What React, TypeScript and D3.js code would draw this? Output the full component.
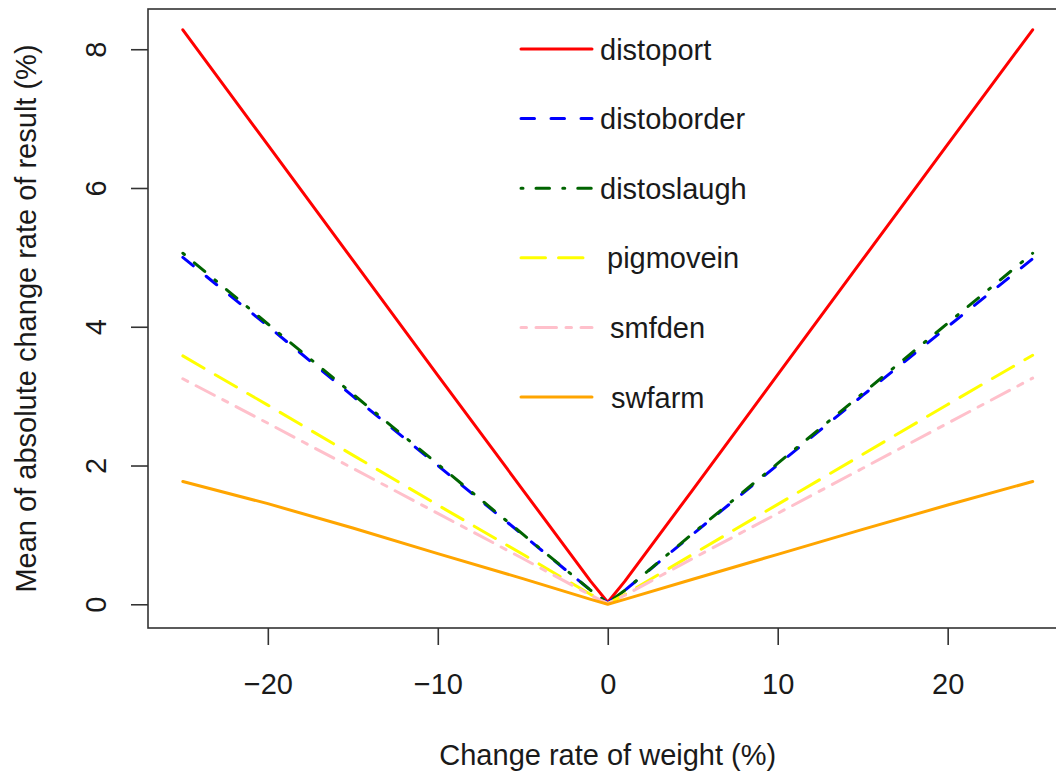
import * as d3 from "d3";
import { useEffect, useRef } from "react";

// Data
const changeRate = [-25, -20, -15, -10, -5, -1, 0, 1, 5, 10, 15, 20, 25];

const distoport = [8.28, 6.62, 4.96, 3.3, 1.65, 0.33, 0.03, 0.33, 1.65, 3.31, 4.97, 6.63, 8.28];
const distoborder = [5.0, 4.01, 3.0, 2.0, 1.0, 0.2, 0.02, 0.2, 1.01, 2.01, 3.01, 4.0, 4.98];
const distoslaugh = [5.06, 4.04, 3.03, 2.02, 1.01, 0.2, 0.02, 0.2, 1.02, 2.03, 3.04, 4.05, 5.06];
const pigmovein = [3.58, 2.87, 2.15, 1.43, 0.72, 0.14, 0.01, 0.14, 0.72, 1.44, 2.16, 2.88, 3.59];
const smfden = [3.25, 2.61, 1.96, 1.31, 0.66, 0.13, 0.01, 0.13, 0.66, 1.31, 1.96, 2.61, 3.26];
const swfarm = [1.77, 1.45, 1.1, 0.73, 0.37, 0.07, 0.0, 0.07, 0.36, 0.72, 1.08, 1.43, 1.77];

const seriesNames = ["distoport", "distoborder", "distoslaugh", "pigmovein", "smfden", "swfarm"];
const seriesValues = [distoport, distoborder, distoslaugh, pigmovein, smfden, swfarm];

const xTicks = [-20, -10, 0, 10, 20];
const yTicks = [0, 2, 4, 6, 8];

// Styles (R: lty 1, 2, 4, 5, 6, 1)
const colors = ["#ff0000", "#0000ff", "#006400", "#ffff00", "#ffc0cb", "#ffa500"];
const dashes = ["none", "13.5,16.5", "2,13,13.5,13.25", "24.5,13", "5.5,9.5,20.5,9.5", "none"];
const legendIndent = [0, 0, 0, 7, 10, 11];

const font = "'Liberation Sans', Arial, sans-serif";
const textColor = "#1a1a1a";

const drawChart = (node: SVGSVGElement) => {
  const svg = d3.select(node);
  svg.selectAll("*").remove();

  // plot region
  const left = 148, right = 1067.5, top = 9, bottom = 628;

  const xScale = d3.scaleLinear().domain([-27.05, 27.05]).range([left, right]);
  const yScale = d3.scaleLinear().domain([-0.342, 8.58]).range([bottom, top]);

  svg.append("rect")
    .attr("width", 1056)
    .attr("height", 776)
    .attr("fill", "#fff");

  // Axes
  const xAxis = d3.axisBottom(xScale).tickValues(xTicks).tickSize(17).tickPadding(30);
  const xAxisGroup = svg.append("g")
    .attr("transform", `translate(0, ${bottom})`)
    .call(xAxis);
  xAxisGroup.select(".domain").remove();
  xAxisGroup.selectAll(".tick line").attr("stroke", "#333").attr("stroke-width", 1.6);
  xAxisGroup.selectAll(".tick text")
    .attr("y", 66)
    .attr("dy", 0)
    .style("font-family", font)
    .style("font-size", "29px")
    .style("fill", textColor);

  const yAxis = d3.axisLeft(yScale).tickValues(yTicks).tickSize(17).tickFormat(d3.format("d"));
  const yAxisGroup = svg.append("g")
    .attr("transform", `translate(${left}, 0)`)
    .call(yAxis);
  yAxisGroup.select(".domain").remove();
  yAxisGroup.selectAll(".tick line").attr("stroke", "#333").attr("stroke-width", 1.6);
  yAxisGroup.selectAll(".tick text")
    .attr("x", 0)
    .attr("dy", 0)
    .attr("text-anchor", "middle")
    .attr("transform", "translate(-42, 0) rotate(-90)")
    .style("font-family", font)
    .style("font-size", "29px")
    .style("fill", textColor);

  // Box
  svg.append("rect")
    .attr("x", left)
    .attr("y", top)
    .attr("width", right - left)
    .attr("height", bottom - top)
    .attr("fill", "none")
    .attr("stroke", "#333")
    .attr("stroke-width", 1.6);

  // Lines
  const line = d3.line<number>()
    .x((_, i) => xScale(changeRate[i]))
    .y(d => yScale(d));

  seriesValues.forEach((vals, k) => {
    svg.append("path")
      .datum(vals)
      .attr("fill", "none")
      .attr("stroke", colors[k])
      .attr("stroke-width", 3)
      .attr("stroke-linecap", "round")
      .attr("stroke-linejoin", "round")
      .attr("stroke-dasharray", dashes[k])
      .attr("d", line);
  });

  // Legend
  const legendTop = 49, rowGap = 69.6;
  const legend = svg.append("g");
  seriesNames.forEach((name, k) => {
    const y = legendTop + k * rowGap;
    legend.append("line")
      .attr("x1", 521)
      .attr("x2", 592)
      .attr("y1", y)
      .attr("y2", y)
      .attr("stroke", colors[k])
      .attr("stroke-width", 3)
      .attr("stroke-linecap", "round")
      .attr("stroke-dasharray", dashes[k]);
    legend.append("text")
      .attr("x", 600 + legendIndent[k])
      .attr("y", y + 10.5)
      .text(name)
      .style("font-family", font)
      .style("font-size", "29px")
      .style("fill", textColor);
  });

  // Axis names
  svg.append("text")
    .attr("text-anchor", "middle")
    .attr("x", (left + right) / 2)
    .attr("y", 765)
    .text("Change rate of weight (%)")
    .style("font-family", font)
    .style("font-size", "29px")
    .style("fill", textColor);

  svg.append("text")
    .attr("text-anchor", "middle")
    .attr("transform", `translate(36, ${(top + bottom) / 2}) rotate(-90)`)
    .text("Mean of absolute change rate of result (%)")
    .style("font-family", font)
    .style("font-size", "29px")
    .style("fill", textColor);
};

export default function App() {
  const ref = useRef<SVGSVGElement>(null);

  useEffect(() => {
    if (ref.current) drawChart(ref.current);
  }, []);

  return (
    <svg
      ref={ref}
      width={1056}
      height={776}
      style={{ position: "absolute", left: 0, top: 0, overflow: "hidden" }}
    />
  );
}
